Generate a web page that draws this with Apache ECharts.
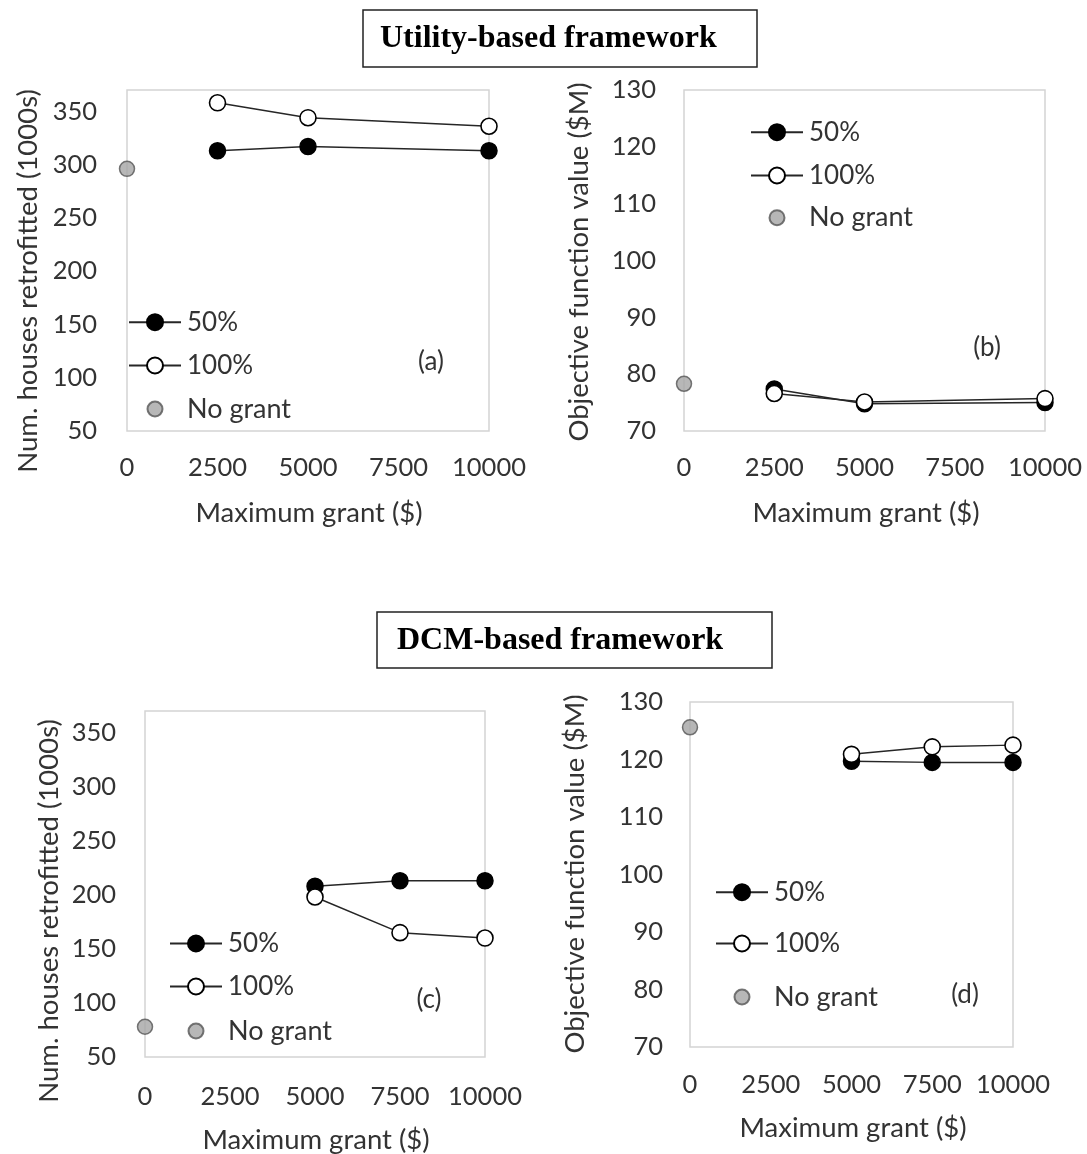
<!DOCTYPE html>
<html>
<head>
<meta charset="utf-8">
<script src="https://cdn.jsdelivr.net/npm/echarts@6/dist/echarts.min.js"></script>
<style>
  html, body { margin: 0; padding: 0; background: #fff; }
  #chart { width: 1087px; height: 1154px; }
</style>
</head>
<body>
<div id="chart"></div>
<script>
// ---- data ----
const grantTicks = [0, 2500, 5000, 7500, 10000];
const seriesNames = ['50%', '100%', 'No grant'];

// (a) Utility-based, houses retrofitted (1000s)
const aX = [2500, 5000, 10000];
const a50 = [313, 317, 313];
const a100 = [358, 344, 336];
const aNoGrant = 296;

// (b) Utility-based, objective function ($M)
const bX = [2500, 5000, 10000];
const b50 = [77.4, 74.8, 75.0];
const b100 = [76.6, 75.1, 75.7];
const bNoGrant = 78.3;

// (c) DCM-based, houses retrofitted (1000s)
const cX = [5000, 7500, 10000];
const c50 = [208, 213, 213];
const c100 = [198, 165, 160];
const cNoGrant = 78;

// (d) DCM-based, objective function ($M)
const dX = [5000, 7500, 10000];
const d50 = [119.7, 119.5, 119.5];
const d100 = [120.9, 122.2, 122.5];
const dNoGrant = 125.6;

const titles = ['Utility-based framework', 'DCM-based framework'];
const xTitle = 'Maximum grant ($)';
const yTitles = ['Num. houses retrofitted (1000s)', 'Objective function value ($M)'];
const panelLabels = ['(a)', '(b)', '(c)', '(d)'];

// ---- styling / layout ----
const FONT = 'Lato';
const TXT = '#333333';
const FS_NUM = 25.5;
const FS_TXT = 27.5;
const FS_LEG = 27;

const grids = [
  { left: 127, top: 90, width: 362, height: 341 },
  { left: 684, top: 90, width: 361, height: 341 },
  { left: 145, top: 711, width: 340, height: 346 },
  { left: 690, top: 702, width: 323, height: 345 }
];
const yRanges = [
  { min: 50, max: 370, interval: 50, margin: 30 },
  { min: 70, max: 130, interval: 10, margin: 28 },
  { min: 50, max: 370, interval: 50, margin: 29 },
  { min: 70, max: 130, interval: 10, margin: 27 }
];
const xMargins = [24, 24, 27, 25];

const panels = [
  { x: aX, s50: a50, s100: a100, no: aNoGrant },
  { x: bX, s50: b50, s100: b100, no: bNoGrant },
  { x: cX, s50: c50, s100: c100, no: cNoGrant },
  { x: dX, s50: d50, s100: d100, no: dNoGrant }
];

function pairs(xs, ys) { return xs.map((x, i) => [x, ys[i]]); }

const lineStyle = { color: '#262626', width: 1.5 };
const series = [];
panels.forEach((p, i) => {
  series.push({
    name: seriesNames[0], type: 'line', xAxisIndex: i, yAxisIndex: i,
    data: pairs(p.x, p.s50), symbol: 'circle', symbolSize: 16, clip: false,
    lineStyle: lineStyle,
    itemStyle: { color: '#000000', borderColor: '#000000', borderWidth: 1.5 },
    emphasis: { disabled: true }, z: 2
  });
  series.push({
    name: seriesNames[1], type: 'line', xAxisIndex: i, yAxisIndex: i,
    data: pairs(p.x, p.s100), symbol: 'circle', symbolSize: 16, clip: false,
    lineStyle: lineStyle,
    itemStyle: { color: '#ffffff', borderColor: '#000000', borderWidth: 1.6 },
    emphasis: { disabled: true }, z: 3
  });
  series.push({
    name: seriesNames[2], type: 'scatter', xAxisIndex: i, yAxisIndex: i,
    data: [[grantTicks[0], p.no]], symbol: 'circle', symbolSize: 15, clip: false,
    itemStyle: { color: '#a5a5a5', borderColor: '#555555', borderWidth: 1.5 },
    emphasis: { disabled: true }, z: 4
  });
});

const xAxes = grids.map((g, i) => ({
  type: 'value', gridIndex: i, min: grantTicks[0], max: grantTicks[grantTicks.length - 1],
  interval: grantTicks[1] - grantTicks[0],
  axisLine: { show: false }, axisTick: { show: false }, splitLine: { show: false },
  axisLabel: { color: TXT, fontFamily: FONT, fontSize: FS_NUM, lineHeight: 26, margin: xMargins[i],
    formatter: v => String(v) }
}));
const yAxes = grids.map((g, i) => ({
  type: 'value', gridIndex: i, min: yRanges[i].min, max: yRanges[i].max, interval: yRanges[i].interval,
  axisLine: { show: false }, axisTick: { show: false }, splitLine: { show: false },
  axisLabel: { color: TXT, fontFamily: FONT, fontSize: FS_NUM, margin: yRanges[i].margin,
    formatter: v => ((v - yRanges[i].min) % yRanges[i].interval === 0 ? String(v) : '') }
}));

// legend positions: [left, center y of 50%, 100%, No grant]
const legendPos = [
  { left: 128, ys: [321.7, 365, 408] },
  { left: 750, ys: [131.7, 175, 216.7] },
  { left: 169, ys: [943, 986, 1030] },
  { left: 715, ys: [891.7, 943, 996] }
];
const ICON_W = 52;
const TEXT_HALF = 12.5; // half height of the legend text box, which sets the item's top
const legends = [];
legendPos.forEach(lp => {
  seriesNames.forEach((nm, k) => {
    const h = k < 2 ? 20 : 15;
    // the scatter icon's bounding box starts at the circle, not at the icon slot
    const left = k < 2 ? lp.left : lp.left + (ICON_W - h) / 2;
    legends.push({
      left: left, top: lp.ys[k] - Math.max(h / 2, TEXT_HALF), padding: 0, orient: 'vertical',
      itemWidth: ICON_W, itemHeight: h, selectedMode: false,
      data: [nm],
      textStyle: { color: TXT, fontFamily: FONT, fontSize: k < 2 ? FS_NUM + 0.5 : FS_LEG, lineHeight: h, padding: [0, 0, 0, 1] }
    });
  });
});

const graphics = [];
// framework title boxes
const titleBoxes = [
  { x: 363, y: 10, w: 394, h: 57, tx: 380, ty: 39 },
  { x: 377, y: 612, w: 395, h: 56, tx: 397, ty: 641 }
];
titleBoxes.forEach((b, i) => {
  graphics.push({ type: 'rect', shape: { x: b.x, y: b.y, width: b.w, height: b.h },
    style: { fill: '#fff', stroke: '#222', lineWidth: 1.5 }, z: 10 });
  graphics.push({ type: 'text', x: b.tx, y: b.ty, z: 11,
    style: { text: titles[i], fill: '#000', font: 'bold 32px "Liberation Serif", "Times New Roman", serif',
      textAlign: 'left', textVerticalAlign: 'middle' } });
});
// axis titles
const xTitlePos = [[309, 513], [866, 513], [316, 1140], [853, 1128]];
const yTitlePos = [[28, 281, 0], [579, 262, 1], [49, 911, 0], [575, 874, 1]];
xTitlePos.forEach(p => graphics.push({ type: 'text', x: p[0], y: p[1],
  style: { text: xTitle, fill: TXT, font: FS_TXT + 'px ' + FONT, textAlign: 'center', textVerticalAlign: 'middle' } }));
yTitlePos.forEach(p => graphics.push({ type: 'text', x: p[0], y: p[1], rotation: Math.PI / 2,
  style: { text: yTitles[p[2]], fill: TXT, font: FS_TXT + 'px ' + FONT, textAlign: 'center', textVerticalAlign: 'middle' } }));
// panel labels
const panelPos = [[431, 362], [987, 348], [429, 1000], [965, 995]];
panelPos.forEach((p, i) => graphics.push({ type: 'text', x: p[0], y: p[1],
  style: { text: panelLabels[i], fill: TXT, font: '26px ' + FONT, textAlign: 'center', textVerticalAlign: 'middle' } }));

const chart = echarts.init(document.getElementById('chart'), null, { renderer: 'canvas' });
chart.setOption({
  backgroundColor: '#ffffff',
  animation: false,
  grid: grids.map(g => Object.assign({ show: true, borderColor: '#d4d4d4', borderWidth: 1.5, backgroundColor: 'transparent', containLabel: false }, g)),
  xAxis: xAxes,
  yAxis: yAxes,
  legend: legends,
  series: series,
  graphic: graphics
});
</script>
</body>
</html>
